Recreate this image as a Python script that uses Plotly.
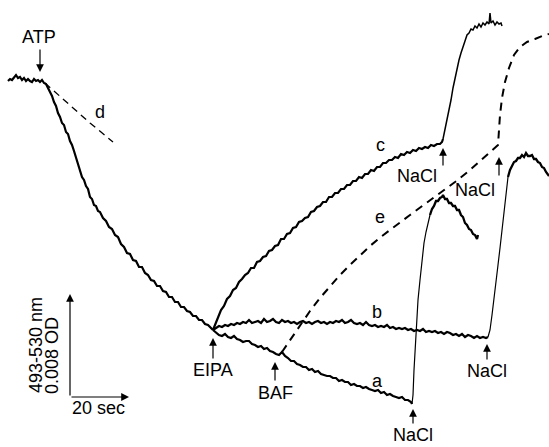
import plotly.graph_objects as go

# Trace readings (x: chart time units, y: deflection units, downward positive)
main_x = [8,10,12,14,16,18,20,22,24,26,28,30,32,34,36,38,40,42,44,46,48,50,52,54,56,58,60,62,64,66,68,70,72,74,76,78,80,82,84,86,88,90,92,94,96,98,100,103,106,109,112,115,118,121,124,127,130,133,136,139,142,145,148,151,154,157,160,163,166,169,172,175,178,181,184,187,190,193,196,199,202,205,208,211,213]
main_y = [81,79,80,77,75,78,77,80,78,81,79,81,82,79,81,80,82,80,83,84,88,93,96,102,106,113,117,123,125,132,134,141,145,151,157,164,169,177,180,186,189,197,199,205,206,211,212,218,221,227,229,235,237,244,247,253,254,260,261,267,267,273,275,280,281,286,286,291,292,297,297,302,302,307,307,311,312,316,316,320,320,324,325,328,330]

d_x = [45,56,67,78,90,101,113]
d_y = [83,93,103,113,123,132,142]

c_x = [213,215,218,221,224,227,230,233,236,239,242,245,248,251,254,257,260,263,266,269,272,275,278,281,284,287,290,293,296,299,302,305,308,311,314,317,320,323,326,329,332,335,338,341,344,347,350,353,356,359,362,365,368,371,374,377,380,383,386,389,392,395,398,401,404,407,410,413,416,419,422,425,428,431,434,437,440,442,443]
c_y = [330,325,319,310,306,299,296,290,288,282,279,275,273,268,268,262,261,257,256,251,250,246,245,239,239,234,233,228,227,222,221,218,217,212,211,207,206,202,202,197,197,193,193,189,189,185,185,181,181,177,178,174,174,170,171,167,167,163,163,160,160,157,158,154,155,152,153,150,151,148,149,147,148,145,146,144,144,142,139]
c_rise_x = [443,445,447,449,451,453,455,457,459,461,463,465,467,469,471,473,475,477,479,481,483,485,487,489,490,491,493,495,497,499,501,502]
c_rise_y = [139,130,120,111,100,88,78,68,60,53,46,41,35,33,29,30,26,28,24,27,23,25,22,24,13,23,21,25,22,24,23,26]

b_x = [213,216,219,222,225,228,231,234,237,240,243,246,249,252,255,258,261,264,267,270,273,276,279,282,285,288,291,294,297,300,303,306,309,312,315,318,321,324,327,330,333,336,339,342,345,348,351,354,357,360,363,366,369,372,375,378,381,384,387,390,393,396,399,402,405,408,411,414,417,420,423,426,429,432,435,438,441,444,447,450,453,456,459,462,465,468,471,474,477,480,483,486,488]
b_y = [330,328,326,327,325,326,324,325,323,324,322,323,320,323,322,321,323,319,322,321,319,322,323,320,322,321,323,322,324,322,321,323,322,324,322,321,323,322,324,322,323,321,322,320,323,322,320,323,324,323,325,322,325,326,325,327,326,327,325,328,327,329,328,329,328,330,329,331,330,331,329,332,331,332,331,333,332,334,332,333,335,334,336,334,337,335,336,338,336,338,337,338,337]
b_rise_x = [488,490,492,494,496,498,500,502,504,506,508]
b_rise_y = [337,330,315,300,285,265,248,230,208,190,177]
b_top_x = [508,510,512,514,516,518,520,522,524,526,528,530,532,534,536,538,540,542,544,546,549]
b_top_y = [177,170,166,162,161,158,158,155,157,153,156,156,155,159,159,162,163,167,168,172,176]

a_x = [213,216,219,222,225,228,231,234,237,240,243,246,249,252,255,258,261,264,267,270,273,276,279,282,285,288,291,294,297,300,303,306,309,312,315,318,321,324,327,330,333,336,339,342,345,348,351,354,357,360,363,366,369,372,375,378,381,384,387,390,393,396,399,402,405,408,411,412]
a_y = [330,333,335,336,334,337,338,336,339,340,342,341,341,344,345,347,346,349,348,351,352,354,355,352,356,358,361,361,364,365,367,367,370,369,372,371,374,375,376,376,378,378,381,380,382,382,385,384,386,386,388,387,389,390,391,390,393,392,395,394,396,397,398,397,400,400,402,404]
a_rise_x = [412,413,414,415,416,417,418,420,422,424,426,428,430]
a_rise_y = [404,395,370,350,330,312,300,280,260,243,232,222,215]
a_top_x = [430,432,434,436,438,440,442,443,445,447,449,451,453,455,457,459,461,463,465,467,469,471,473,475,477,478]
a_top_y = [215,209,206,201,201,198,197,195,199,199,203,203,206,206,210,210,215,217,223,225,229,230,234,235,239,235]

e_x = [282,290,300,310,320,330,340,350,360,370,382,395,410,425,440,455,470,485,498,499,500,502,505,509,514,520,527,535,542,549]
e_y = [352,340,325,311,298,286,275,265,255,246,236,226,215,204,193,182,170,157,145,130,115,98,82,68,55,47,42,39,36,34]

# Event markers: (label, x, arrow head y, arrow tail y, text y)
events_up = [("EIPA", 213, 338, 360, 370), ("BAF", 275, 362, 382, 393),
             ("NaCl", 413, 409, 425, 435), ("NaCl", 487, 344, 361, 371)]
events_up_offset = [("NaCl", 443, 417, 148, 167, 176), ("NaCl", 499, 475, 157, 177, 190)]
trace_labels = [("a", 377, 381), ("b", 377, 312), ("c", 380, 145), ("d", 100, 112), ("e", 380, 217)]

FONT = "Liberation Sans, Arial, Helvetica, sans-serif"
fig = go.Figure()

def line(x, y, w=2.2, dash=None):
    fig.add_trace(go.Scatter(x=x, y=y, mode="lines",
                             line=dict(color="black", width=w, dash=dash),
                             hoverinfo="skip", showlegend=False))

line(main_x, main_y, 2.2)
line(d_x, d_y, 1.3, "7px,5px")
line(c_x, c_y, 2.2)
line(c_rise_x, c_rise_y, 1.5)
line(b_x, b_y, 2.2)
line(b_rise_x, b_rise_y, 1.2)
line(b_top_x, b_top_y, 2.3)
line(a_x, a_y, 2.2)
line(a_rise_x, a_rise_y, 1.2)
line(a_top_x, a_top_y, 2.3)
line(e_x, e_y, 2.0, "8px,6px")

ann = []
def arrow(x, y, ax, ay):
    ann.append(dict(x=x, y=y, ax=ax, ay=ay, xref="x", yref="y", axref="x", ayref="y",
                    text="", showarrow=True, arrowhead=2, arrowsize=1.3, arrowwidth=1.2,
                    arrowcolor="black", standoff=0, startstandoff=0))
def label(t, x, y, size=18, angle=0):
    ann.append(dict(x=x, y=y, xref="x", yref="y", text=t, showarrow=False,
                    textangle=angle, font=dict(family=FONT, size=size, color="black"),
                    xanchor="center", yanchor="middle"))

# ATP
arrow(40, 72, 40, 48)
label("ATP", 39, 37)
for t, x, hy, ty, tyy in events_up:
    arrow(x, hy, x, ty)
    label(t, x, tyy)
for t, x, tx, hy, ty, tyy in events_up_offset:
    arrow(x, hy, x, ty)
    label(t, tx, tyy)
for t, x, y in trace_labels:
    label(t, x, y)

# scale bars
arrow(70, 294, 70, 397)
arrow(129, 397, 70, 397)
label("20 sec", 98, 408)
label("493-530 nm", 36, 345, angle=-90)
label("0.008 OD", 52, 356, angle=-90)

fig.update_layout(
    width=549, height=447, margin=dict(l=0, r=0, t=0, b=0),
    paper_bgcolor="white", plot_bgcolor="white",
    xaxis=dict(range=[0, 549], visible=False, fixedrange=True),
    yaxis=dict(range=[447, 0], visible=False, fixedrange=True),
    annotations=ann,
)
fig.write_html("out.html")
